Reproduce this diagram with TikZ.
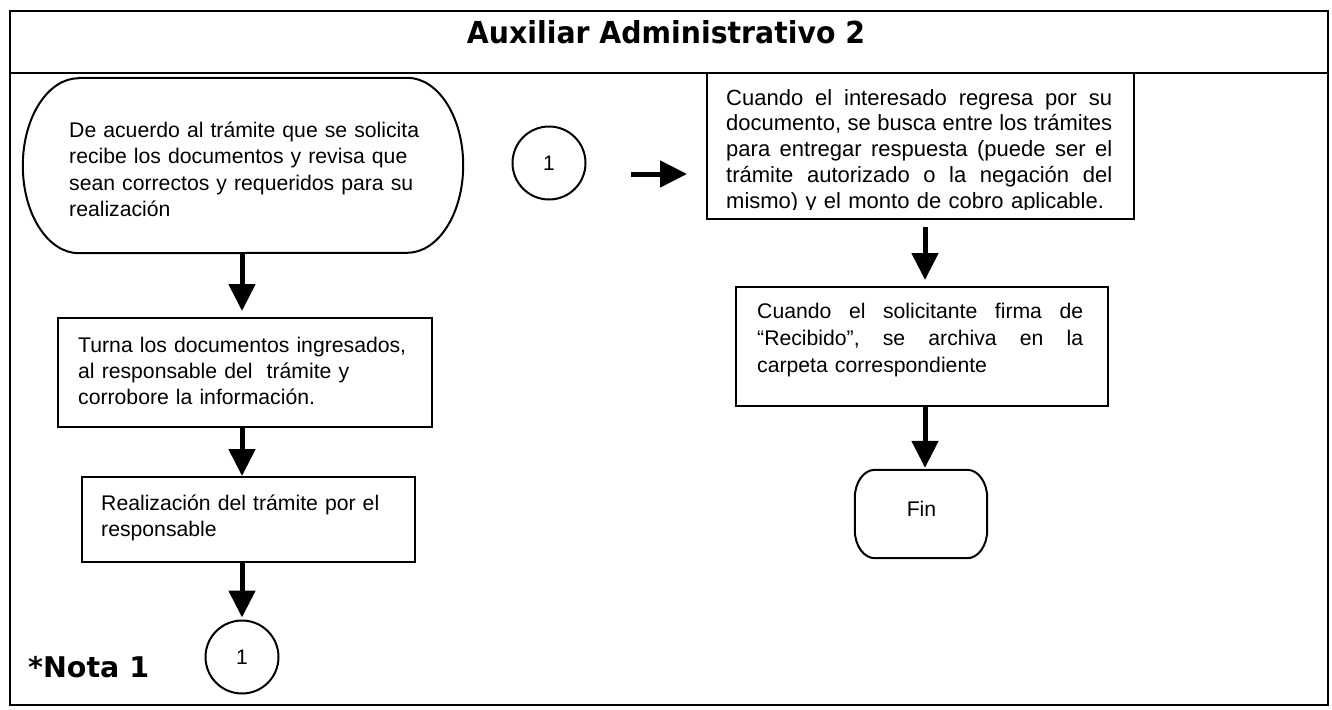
\documentclass[tikz,border=0pt]{standalone}
\usepackage{graphicx}
\usepackage{fontspec}
\setmainfont{Liberation Sans}
\newfontfamily\dejavu{DejaVu Sans}
\usetikzlibrary{arrows.meta,calc}
\newcommand\jline[2]{\makebox[#1][s]{\frenchspacing\spaceskip=0.278em plus 1fil\xspaceskip=0pt\relax #2}}
\begin{document}
\lineskiplimit=-100pt
\begin{tikzpicture}[x=1pt,y=-1pt,
  box/.style={draw, line width=2pt, rectangle, inner sep=0pt},
  term/.style={rectangle, inner sep=0pt},
  tline/.style={line width=2pt},
  txt/.style={inner sep=0pt, anchor=base west, align=left, text width=430pt, font=\fontsize{21.2pt}{26.5pt}\selectfont},
  arr/.style={line width=5pt, -{Triangle[width=26pt,length=27pt]}},
  conn/.style={draw, circle, line width=2pt, minimum size=73pt, inner sep=0pt, font=\fontsize{21pt}{25pt}\selectfont},
  frame/.style={line width=2.2pt}]
\useasboundingbox (0,0) rectangle (1332,709);
\coordinate (colL) at (242,0);
\coordinate (colR) at (925,0);
% frame
\draw[frame] (10,11) rectangle (1328,705);
\draw[frame] (10,73) -- (1328,73);
\node[anchor=base, inner sep=0pt] (title) at (666,44) {\resizebox{398pt}{23pt}{\dejavu\bfseries Auxiliar Administrativo 2}};
% left column
\node[term, minimum width=440pt, minimum height=175pt] (start) at (243,165.5) {};
\draw[tline] ([xshift=56pt]start.north west) -- ([xshift=-56pt]start.north east)
  arc[start angle=90, end angle=-90, x radius=56pt, y radius=87.5pt]
  -- ([xshift=56pt]start.south west)
  arc[start angle=270, end angle=90, x radius=56pt, y radius=87.5pt] -- cycle;
\node[txt] (t1) at (69,137) {De acuerdo al trámite que se solicita\\recibe los documentos y revisa que\\sean correctos y requeridos para su\\realización};
\node[box, minimum width=374pt, minimum height=109pt] (b2) at (245,372.5) {};
\node[txt, font=\fontsize{21.2pt}{26pt}\selectfont] (t2) at (78,352) {Turna los documentos ingresados,\\al responsable del~ trámite y\\corrobore la información.};
\node[box, minimum width=333pt, minimum height=85pt] (b3) at (248.5,519.5) {};
\node[txt] (t3) at (101,510) {Realización del trámite por el\\responsable};
\node[conn] (c1) at (242,657) {1};
\node[anchor=base west, inner sep=0pt] (nota) at (28,677) {\resizebox{121pt}{!}{\dejavu\bfseries *Nota 1}};
% right column
\node[conn] (c2) at (549,163) {1};
\node[box, minimum width=427pt, minimum height=146pt] (b4) at (920.5,146) {};
\begin{scope}
\clip (700,70) rectangle (1140,209.5);
\node[txt, text width=386pt, font=\fontsize{22pt}{25.75pt}\selectfont] (t4) at (726,105) {\jline{386pt}{Cuando el interesado regresa por su}\\\jline{386pt}{documento, se busca entre los trámites}\\\jline{386pt}{para entregar respuesta (puede ser el}\\\jline{386pt}{trámite autorizado o la negación del}\\mismo) y el monto de cobro aplicable.};
\end{scope}
\node[box, minimum width=372pt, minimum height=119pt] (b5) at (922,346.5) {};
\node[txt, font=\fontsize{21.2pt}{27pt}\selectfont] (t5) at (757,318) {\jline{326pt}{Cuando el solicitante firma de}\\\jline{326pt}{“Recibido”, se archiva en la}\\carpeta correspondiente};
\node[term, minimum width=132pt, minimum height=88pt] (fin) at (921,514) {};
\draw[tline] ([xshift=20pt]fin.north west) -- ([xshift=-20pt]fin.north east)
  arc[start angle=90, end angle=0, x radius=20pt, y radius=28pt]
  -- ([yshift=28pt]fin.south east)
  arc[start angle=0, end angle=-90, x radius=20pt, y radius=28pt]
  -- ([xshift=20pt]fin.south west)
  arc[start angle=270, end angle=180, x radius=20pt, y radius=28pt]
  -- ([yshift=-28pt]fin.north west)
  arc[start angle=180, end angle=90, x radius=20pt, y radius=28pt] -- cycle;
\node[anchor=base, inner sep=0pt, font=\fontsize{21.2pt}{26pt}\selectfont] (tfin) at (921.5,516) {Fin};
% connectors
\draw[arr] (colL |- start.south) -- ([yshift=6pt]colL |- b2.north);
\draw[arr] (colL |- b2.south) -- (colL |- b3.north);
\draw[arr] (colL |- b3.south) -- ([yshift=2pt]c1.north);
\draw[arr] ([xshift=44pt,yshift=-11pt]c2.east) -- ([xshift=-19pt,yshift=-11pt]c2.east -| b4.west);
\draw[arr] ([yshift=-7pt]colR |- b4.south) -- ([yshift=6pt]colR |- b5.north);
\draw[arr] (colR |- b5.south) -- ([yshift=2pt]colR |- fin.north);
\end{tikzpicture}
\end{document}
